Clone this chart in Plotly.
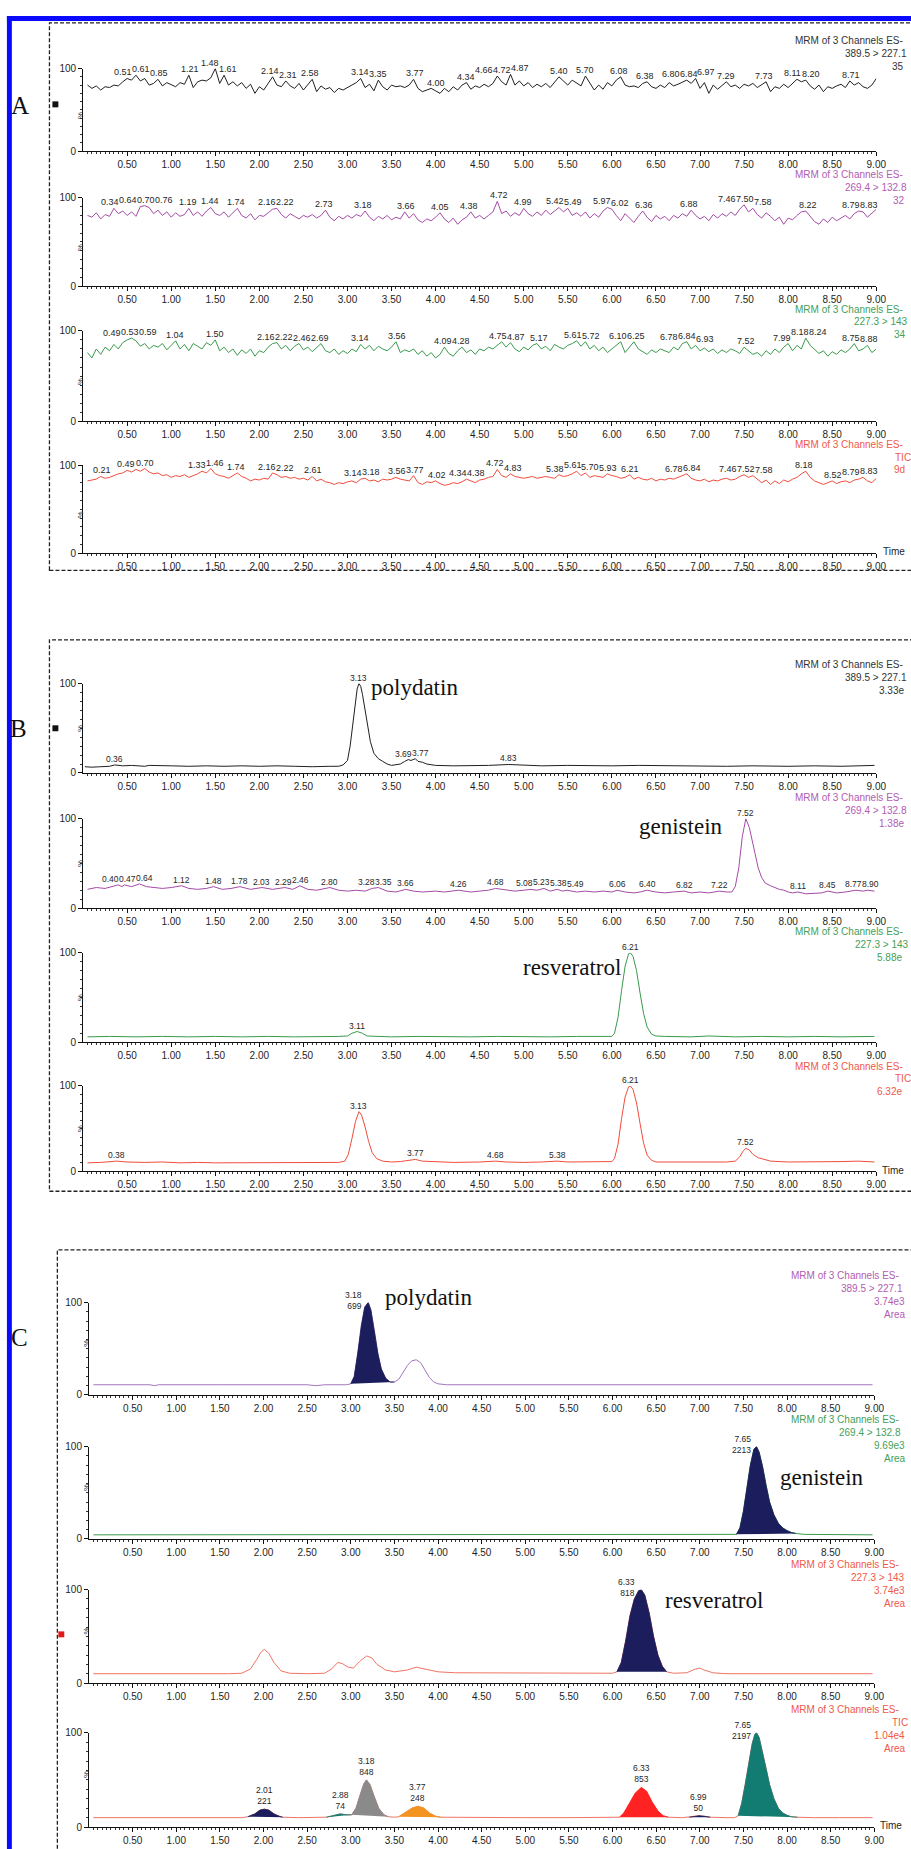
import numpy as np
import plotly.graph_objects as go

W, H = 911, 1849

# ------------------------------------------------------------------ data
# Panel A: blank samples, sampled every 0.05 min
A_TIME = [round(0.05 * i, 2) for i in range(1, 181)]

A1_Y = [80, 76, 79, 74, 78, 77, 80, 79, 84, 88,
        86, 92, 85, 88, 80, 82, 87, 79, 83, 80,
        78, 83, 81, 92, 77, 84, 86, 85, 89, 100,
        82, 92, 80, 84, 79, 83, 76, 81, 70, 78,
        74, 82, 90, 80, 78, 85, 79, 76, 82, 74,
        80, 87, 72, 79, 75, 77, 71, 76, 74, 77,
        79, 83, 88, 77, 81, 73, 86, 78, 74, 80,
        78, 79, 77, 80, 87, 76, 72, 74, 76, 73,
        70, 76, 72, 78, 74, 80, 83, 75, 79, 77,
        81, 78, 82, 91, 84, 80, 93, 80, 85, 79,
        83, 77, 81, 78, 82, 77, 84, 90, 85, 80,
        86, 83, 79, 91, 82, 74, 80, 75, 83, 79,
        86, 90, 80, 78, 79, 77, 82, 84, 78, 76,
        80, 77, 83, 79, 81, 84, 86, 82, 88, 76,
        83, 70, 80, 75, 79, 84, 78, 80, 76, 81,
        79, 82, 77, 80, 84, 72, 78, 76, 81, 77,
        82, 87, 84, 86, 79, 75, 80, 72, 78, 76,
        79, 81, 77, 85, 80, 83, 78, 76, 80, 88]

A2_Y = [80, 78, 83, 76, 81, 79, 88, 82, 85, 80,
        84, 79, 90, 91, 89, 82, 86, 80, 84, 78,
        83, 79, 81, 88, 80, 84, 79, 85, 89, 82,
        80, 84, 78, 83, 88, 80, 77, 82, 75, 80,
        79, 83, 87, 88, 81, 77, 82, 79, 76, 80,
        78, 81, 77, 80, 86, 78, 74, 79, 76, 80,
        77, 81, 79, 85, 78, 74, 79, 76, 80, 75,
        78, 76, 84, 77, 82, 75, 72, 76, 74, 78,
        83, 76, 72, 77, 70, 75, 78, 84, 77, 80,
        76, 80, 84, 96, 82, 85, 79, 83, 80, 88,
        82, 79, 84, 80, 86, 81, 85, 89, 84, 88,
        80, 83, 79, 84, 77, 82, 78, 85, 89, 87,
        80, 74, 82, 77, 72, 79, 85, 78, 73, 80,
        76, 79, 74, 80, 77, 82, 79, 86, 80, 76,
        79, 74, 81, 77, 82, 79, 84, 80, 87, 92,
        84, 88, 81, 77, 83, 79, 74, 78, 70, 77,
        75, 80, 84, 85, 79, 73, 70, 76, 72, 78,
        74, 77, 80, 76, 82, 85, 84, 78, 83, 87]

A3_Y = [76, 70, 80, 74, 82, 78, 85, 80, 87, 90,
        92, 89, 83, 86, 80, 84, 82, 86, 79, 84,
        89, 80, 85, 78, 86, 83, 80, 87, 84, 90,
        78, 82, 76, 80, 73, 79, 75, 80, 72, 78,
        76, 82, 86, 87, 80, 84, 78, 83, 86, 79,
        82, 77, 81, 86, 78, 76, 80, 74, 78, 75,
        80, 77, 85, 80, 84, 78, 83, 80, 78, 82,
        88, 76, 79, 77, 80, 74, 78, 72, 76, 70,
        74, 82, 75, 72, 78, 82, 76, 79, 74, 80,
        78, 82, 80, 84, 88, 82, 87, 80, 77, 82,
        79, 84, 86, 80, 83, 78, 85, 82, 80, 84,
        86, 89, 83, 88, 80, 84, 78, 82, 76, 80,
        84, 88, 76, 82, 88, 80, 77, 74, 79, 76,
        80, 78, 76, 82, 79, 86, 88, 80, 84, 78,
        81, 77, 80, 75, 79, 76, 80, 78, 75, 82,
        78, 74, 76, 72, 78, 74, 80, 76, 82, 86,
        78, 84, 80, 92, 84, 79, 75, 78, 72, 77,
        74, 79, 76, 80, 86, 78, 80, 84, 76, 80]

A4_Y = [82, 83, 84, 87, 85, 86, 88, 90, 91, 94,
        92, 95, 93, 96, 92, 90, 91, 88, 89, 86,
        88, 87, 89, 86, 88, 90, 93, 91, 96, 90,
        88, 87, 85, 88, 91, 87, 85, 82, 84, 83,
        85, 84, 91, 89, 86, 87, 85, 86, 84, 85,
        83, 87, 82, 84, 81, 80, 78, 80, 79, 81,
        82, 80, 84, 85, 82, 83, 81, 84, 83, 84,
        86, 84, 83, 82, 88, 80, 78, 81, 80, 82,
        79, 77, 78, 80, 79, 81, 84, 82, 80, 83,
        84, 86, 87, 95, 88, 86, 90, 87, 86, 85,
        86, 87, 85, 86, 87, 86, 85, 89, 87, 88,
        90, 93, 88, 91, 86, 88, 87, 86, 90, 88,
        87, 85, 86, 89, 84, 86, 84, 83, 85, 82,
        84, 83, 85, 84, 86, 88, 90, 85, 83, 82,
        84, 81, 83, 82, 84, 85, 83, 84, 87, 89,
        86, 88, 84, 80, 83, 78, 82, 79, 83, 81,
        84, 86, 90, 93, 86, 82, 80, 78, 80, 82,
        79, 81, 82, 80, 83, 84, 86, 82, 80, 85]

A1_PEAKS = ["0.51", "0.61", "0.85", "1.21", "1.48", "1.61", "2.14", "2.31", "2.58", "3.14",
            "3.35", "3.77", "4.00", "4.34", "4.66", "4.72", "4.87", "5.40", "5.70", "6.08",
            "6.38", "6.80", "6.84", "6.97", "7.29", "7.73", "8.11", "8.20", "8.71"]
A2_PEAKS = ["0.34", "0.64", "0.70", "0.76", "1.19", "1.44", "1.74", "2.16", "2.22", "2.73",
            "3.18", "3.66", "4.05", "4.38", "4.72", "4.99", "5.42", "5.49", "5.97", "6.02",
            "6.36", "6.88", "7.46", "7.50", "7.58", "8.22", "8.79", "8.83"]
A3_PEAKS = ["0.49", "0.53", "0.59", "1.04", "1.50", "2.16", "2.22", "2.46", "2.69", "3.14",
            "3.56", "4.09", "4.28", "4.75", "4.87", "5.17", "5.61", "5.72", "6.10", "6.25",
            "6.78", "6.84", "6.93", "7.52", "7.99", "8.18", "8.24", "8.75", "8.88"]
A4_PEAKS = ["0.21", "0.49", "0.70", "1.33", "1.46", "1.74", "2.16", "2.22", "2.61", "3.14",
            "3.18", "3.56", "3.77", "4.02", "4.34", "4.38", "4.72", "4.83", "5.38", "5.61",
            "5.70", "5.93", "6.21", "6.78", "6.84", "7.46", "7.52", "7.58", "8.18", "8.52",
            "8.79", "8.83"]

# Panel B: standards (time, %)
B1_PTS = [(0.02, 7), (0.1, 6.5), (0.2, 7), (0.3, 7.5), (0.36, 9), (0.45, 8), (0.55, 8.5),
          (0.7, 7.5), (0.75, 8.5), (0.85, 8), (1.0, 8), (1.2, 7.5), (1.4, 8), (1.6, 7.5),
          (1.8, 8), (2.0, 7.5), (2.2, 8), (2.4, 7.5), (2.6, 7), (2.8, 7.5), (2.9, 7.5),
          (2.95, 9), (3.0, 14), (3.03, 30), (3.06, 55), (3.09, 80), (3.11, 94), (3.13, 100),
          (3.15, 97), (3.17, 88), (3.2, 70), (3.23, 50), (3.26, 35), (3.3, 22), (3.35, 16),
          (3.4, 13), (3.45, 10), (3.5, 8.5), (3.55, 9), (3.6, 10), (3.65, 13), (3.69, 15),
          (3.72, 14), (3.77, 16), (3.8, 13), (3.85, 12), (3.9, 10), (3.95, 9), (4.0, 8.5),
          (4.2, 8), (4.4, 8), (4.6, 8.5), (4.83, 9.5), (5.0, 8.5), (5.2, 8), (5.5, 8.5),
          (5.8, 8), (6.0, 8), (6.3, 8.5), (6.6, 8), (7.0, 8), (7.3, 7.5), (7.6, 8),
          (8.0, 7.5), (8.3, 8), (8.6, 7.5), (8.98, 8.5)]
B2_PTS = [(0.05, 21), (0.15, 23), (0.25, 22), (0.32, 24), (0.40, 26), (0.44, 24), (0.47, 26),
          (0.55, 24), (0.64, 27), (0.72, 24), (0.8, 23), (0.9, 22), (1.0, 23), (1.12, 25),
          (1.2, 22), (1.3, 21), (1.4, 22), (1.48, 24), (1.58, 21), (1.68, 22), (1.78, 24),
          (1.9, 21), (2.03, 23), (2.15, 21), (2.29, 23), (2.38, 21), (2.46, 25), (2.55, 21),
          (2.65, 20), (2.8, 23), (2.9, 20), (3.0, 19), (3.1, 20), (3.2, 19), (3.28, 22),
          (3.35, 23), (3.45, 19), (3.55, 18), (3.66, 21), (3.75, 19), (3.85, 18), (4.0, 19),
          (4.1, 18), (4.26, 20), (4.4, 18), (4.5, 19), (4.6, 20), (4.68, 22), (4.8, 20),
          (4.9, 19), (5.0, 20), (5.08, 21), (5.15, 20), (5.23, 22), (5.3, 19), (5.38, 21),
          (5.44, 19), (5.49, 20), (5.6, 18), (5.7, 19), (5.8, 18), (5.9, 19), (6.0, 18),
          (6.06, 20), (6.15, 18), (6.25, 17), (6.32, 18), (6.40, 20), (6.5, 18), (6.6, 17),
          (6.7, 18), (6.82, 19), (6.9, 17), (7.0, 18), (7.1, 17), (7.22, 19), (7.3, 18),
          (7.36, 18), (7.4, 24), (7.44, 45), (7.48, 80), (7.52, 100), (7.56, 90), (7.6, 72),
          (7.63, 58), (7.66, 45), (7.7, 34), (7.74, 28), (7.8, 25), (7.85, 23), (7.9, 21),
          (7.95, 20), (8.0, 18), (8.05, 17), (8.11, 18), (8.2, 16), (8.3, 17), (8.38, 17),
          (8.45, 19), (8.55, 17), (8.65, 18), (8.77, 20), (8.85, 19), (8.9, 20), (8.98, 19)]
B3_PTS = [(0.05, 6), (0.3, 6.5), (0.6, 6), (0.9, 6.5), (1.2, 6), (1.5, 6.5), (1.8, 6),
          (2.1, 6.5), (2.4, 6), (2.7, 6), (2.9, 6.5), (3.0, 7), (3.05, 10), (3.11, 12),
          (3.17, 10), (3.22, 7), (3.3, 6.5), (3.5, 6), (3.8, 6.5), (4.1, 6), (4.4, 6),
          (4.7, 6.5), (5.0, 6), (5.3, 6), (5.6, 6.5), (5.9, 6), (6.0, 6.5), (6.03, 10),
          (6.07, 28), (6.11, 58), (6.15, 85), (6.19, 99), (6.21, 100), (6.24, 96), (6.28, 80),
          (6.32, 55), (6.36, 32), (6.4, 17), (6.45, 9), (6.5, 7), (6.6, 6.5), (6.9, 6),
          (7.1, 7), (7.4, 6), (7.7, 6.5), (8.0, 6), (8.3, 6.5), (8.6, 6), (8.98, 6.5)]
B4_PTS = [(0.05, 10), (0.2, 10.5), (0.38, 12), (0.5, 11), (0.7, 10.5), (0.9, 11), (1.1, 10),
          (1.3, 10.5), (1.5, 10), (1.7, 10), (2.0, 10), (2.3, 10), (2.6, 10), (2.9, 10.5),
          (2.97, 12), (3.01, 20), (3.05, 38), (3.09, 58), (3.13, 70), (3.16, 66), (3.2, 52),
          (3.24, 35), (3.28, 22), (3.33, 15), (3.4, 12), (3.5, 11), (3.6, 11.5), (3.7, 13),
          (3.77, 14), (3.85, 12), (4.0, 11), (4.2, 10.5), (4.5, 11), (4.68, 12), (4.8, 11),
          (5.0, 10.5), (5.2, 11), (5.38, 12), (5.5, 11), (5.7, 11), (5.9, 11), (6.0, 11.5),
          (6.03, 15), (6.07, 32), (6.11, 62), (6.15, 87), (6.19, 99), (6.21, 100), (6.24, 96),
          (6.28, 80), (6.32, 56), (6.36, 33), (6.4, 19), (6.45, 13), (6.5, 11), (6.7, 11),
          (6.9, 11.5), (7.1, 11), (7.3, 11), (7.4, 12), (7.45, 17), (7.49, 24), (7.52, 27),
          (7.56, 25), (7.6, 20), (7.66, 16), (7.72, 14), (7.8, 12), (8.0, 11), (8.3, 11),
          (8.6, 11.5), (8.8, 12), (8.98, 11)]

B1_PEAKS = ["0.36", "3.13", "3.69", "3.77", "4.83"]
B2_PEAKS = ["0.40", "0.47", "0.64", "1.12", "1.48", "1.78", "2.03", "2.29", "2.46", "2.80",
            "3.28", "3.35", "3.66", "4.26", "4.68", "5.08", "5.23", "5.38", "5.49", "6.06",
            "6.40", "6.82", "7.22", "7.52", "8.11", "8.45", "8.77", "8.90"]
B3_PEAKS = ["3.11", "6.21"]
B4_PEAKS = ["0.38", "3.13", "3.77", "4.68", "5.38", "6.21", "7.52"]

# Panel C: sample (time, %), integrated peaks (rt, area, start, end)
C1_PTS = [(0.05, 11), (0.6, 11), (0.7, 11), (0.75, 10), (0.8, 11), (1.5, 11), (2.0, 11),
          (2.3, 11), (2.5, 11), (2.6, 10), (2.7, 11), (2.95, 11), (3.0, 12), (3.04, 20),
          (3.08, 45), (3.12, 75), (3.16, 95), (3.2, 100), (3.23, 92), (3.27, 70), (3.31, 45),
          (3.35, 28), (3.4, 18), (3.45, 14), (3.5, 14), (3.55, 17), (3.6, 24), (3.65, 32),
          (3.7, 37), (3.75, 38), (3.8, 35), (3.85, 27), (3.9, 19), (3.95, 14), (4.0, 12),
          (4.1, 11), (4.5, 11), (5.0, 11), (6.0, 11), (7.0, 11), (8.0, 11), (8.98, 11)]
C2_PTS = [(0.05, 4.5), (1, 4.5), (2, 4.5), (3, 4.5), (4, 4.5), (5, 4.5), (6, 4.5), (7, 4.5),
          (7.35, 4.5), (7.42, 5), (7.46, 12), (7.5, 30), (7.54, 55), (7.58, 80), (7.62, 97),
          (7.65, 100), (7.68, 94), (7.72, 78), (7.76, 58), (7.8, 40), (7.85, 26), (7.9, 17),
          (7.95, 12), (8.0, 9), (8.05, 7), (8.1, 6), (8.2, 5), (8.5, 4.5), (8.98, 4.5)]
C3_PTS = [(0.05, 10), (0.5, 10), (1.0, 10), (1.3, 9.5), (1.6, 10), (1.75, 10.5), (1.85, 15),
          (1.92, 25), (1.97, 33), (2.01, 36), (2.06, 32), (2.12, 22), (2.2, 13), (2.3, 10.5),
          (2.5, 10), (2.7, 10.5), (2.78, 15), (2.85, 22), (2.9, 21), (2.97, 17), (3.03, 16),
          (3.1, 23), (3.18, 29), (3.24, 27), (3.3, 20), (3.4, 14), (3.5, 12), (3.65, 14),
          (3.75, 17), (3.85, 15), (4.0, 12), (4.2, 11), (4.5, 11), (5.0, 10.5), (5.5, 10.5),
          (6.0, 10.5), (6.05, 12), (6.1, 22), (6.15, 45), (6.2, 72), (6.25, 90), (6.3, 99),
          (6.33, 100), (6.37, 94), (6.42, 75), (6.47, 50), (6.52, 30), (6.57, 18), (6.62, 12),
          (6.7, 10.5), (6.85, 11), (6.95, 15), (7.0, 16), (7.05, 14), (7.15, 11), (7.3, 10),
          (7.6, 10), (8.0, 10), (8.5, 10), (8.98, 10)]
C4_PTS = [(0.05, 10), (0.5, 10), (1.0, 10), (1.5, 10), (1.75, 10), (1.82, 11), (1.9, 14),
          (1.96, 18), (2.01, 19), (2.06, 18), (2.12, 14), (2.18, 11.5), (2.22, 10.5), (2.4, 10),
          (2.6, 10), (2.72, 10.5), (2.8, 12), (2.88, 14), (2.95, 13), (3.01, 13), (3.06, 20),
          (3.11, 35), (3.15, 46), (3.18, 50), (3.22, 45), (3.27, 32), (3.32, 20), (3.38, 13),
          (3.43, 11), (3.5, 10.5), (3.55, 11), (3.62, 15), (3.7, 20), (3.77, 22), (3.84, 20),
          (3.9, 15), (3.97, 11.5), (4.03, 10.5), (4.5, 10), (5.0, 10), (5.5, 10), (6.0, 10),
          (6.08, 10.5), (6.13, 15), (6.2, 26), (6.26, 36), (6.33, 42), (6.39, 38), (6.45, 27),
          (6.52, 17), (6.58, 12), (6.64, 10.5), (6.8, 10), (6.88, 10.5), (6.95, 11.5),
          (6.99, 12), (7.05, 11.5), (7.12, 10.5), (7.3, 10), (7.4, 10), (7.44, 12), (7.48, 25),
          (7.52, 45), (7.56, 68), (7.6, 88), (7.63, 98), (7.65, 100), (7.68, 95), (7.72, 80),
          (7.76, 62), (7.8, 45), (7.85, 30), (7.9, 20), (7.95, 15), (8.0, 12.5), (8.05, 11),
          (8.12, 10.5), (8.3, 10), (8.6, 10), (8.98, 10)]

C1_AREAS = [("3.18", "699", 3.00, 3.50)]
C2_AREAS = [("7.65", "2213", 7.42, 8.10)]
C3_AREAS = [("6.33", "818", 6.05, 6.62)]
C4_AREAS = [("2.01", "221", 1.82, 2.22), ("2.88", "74", 2.72, 3.01), ("3.18", "848", 3.01, 3.43),
            ("3.77", "248", 3.55, 4.03), ("6.33", "853", 6.08, 6.64), ("6.99", "50", 6.88, 7.12),
            ("7.65", "2197", 7.44, 8.12)]

HEAD_A = [["MRM of 3 Channels ES-", "389.5 > 227.1", "35"],
          ["MRM of 3 Channels ES-", "269.4 > 132.8", "32"],
          ["MRM of 3 Channels ES-", "227.3 > 143", "34"],
          ["MRM of 3 Channels ES-", "TIC", "9d"]]
HEAD_B = [["MRM of 3 Channels ES-", "389.5 > 227.1", "3.33e"],
          ["MRM of 3 Channels ES-", "269.4 > 132.8", "1.38e"],
          ["MRM of 3 Channels ES-", "227.3 > 143", "5.88e"],
          ["MRM of 3 Channels ES-", "TIC", "6.32e"]]
HEAD_C = [["MRM of 3 Channels ES-", "389.5 > 227.1", "3.74e3", "Area"],
          ["MRM of 3 Channels ES-", "269.4 > 132.8", "9.69e3", "Area"],
          ["MRM of 3 Channels ES-", "227.3 > 143", "3.74e3", "Area"],
          ["MRM of 3 Channels ES-", "TIC", "1.04e4", "Area"]]

COMPOUNDS = ["polydatin", "genistein", "resveratrol"]
PANELS = ["A", "B", "C"]
X_TICKS = [0.5 * i for i in range(1, 19)]

# ------------------------------------------------------------------ style
SANS = "Liberation Sans, Arial, sans-serif"
SERIF = "Liberation Serif, Times New Roman, serif"
BLACK, PURPLE, GREEN, RED = "#202020", "#a44aa6", "#3a9a4c", "#ef4d3c"
C_PURPLE, C_RED = "#a276ba", "#f07464"
T_BLACK, T_PURPLE, T_GREEN, T_RED = "#333333", "#b25cb2", "#44a058", "#f05848"
NAVY, TEAL, GRAY, ORANGE, FRED = "#1b1d5c", "#127c72", "#8a8a8a", "#f39420", "#ff2222"
C4_FILLS = [NAVY, TEAL, GRAY, ORANGE, FRED, NAVY, TEAL]


def px(x):
    return x / W


def py(y):
    return 1 - y / H


def split(pts):
    return [p[0] for p in pts], [p[1] for p in pts]


def pack_labels(items, size):
    """Horizontal shifts (px) so that neighbouring labels at a similar height do not collide."""
    n = len(items)
    wid = [size * (0.556 * sum(c.isdigit() for c in it[2]) + 0.278 * it[2].count("."))
           for it in items]
    sh = [0.0] * n
    for _ in range(300):
        moved = False
        for i in range(n - 1):
            j = i + 1
            if abs(items[i][1] - items[j][1]) < size + 1:
                ov = (items[i][0] + sh[i] + wid[i] / 2 + 0.5) - (items[j][0] + sh[j] - wid[j] / 2)
                if ov > 0.05:
                    sh[i] -= ov / 2
                    sh[j] += ov / 2
                    moved = True
        if not moved:
            break
    return sh


fig = go.Figure()
layout = {}
annotations = []
shapes = []

# geometry in page pixels: (x_left, x_right, y_zero, y_hundred, header_y)
A_GEOM = [(84, 886, 146, 63, 35), (84, 886, 282, 193, 170), (84, 886, 418, 327, 305), (84, 886, 551, 462, 441)]
B_GEOM = [(84, 886, 772, 682, 663), (84, 886, 908, 818, 797), (84, 886, 1043, 953, 932), (84, 886, 1173, 1087, 1067)]
C_GEOM = [(90, 884, 1398, 1305, 1278), (90, 884, 1543, 1450, 1423), (90, 884, 1688, 1594, 1569), (90, 884, 1833, 1738, 1715)]
A_HX = [[802, 852, 900], [802, 852, 901], [802, 861, 902], [802, 903, 902]]
B_HX = [[802, 852, 887], [802, 852, 887], [802, 862, 885], [802, 903, 885]]
C_HX = [[798, 848, 882, 892], [798, 846, 882, 892], [798, 858, 882, 892], [798, 900, 882, 892]]

subplots = []
for i, (ys, pk, col, tcol) in enumerate(zip([A1_Y, A2_Y, A3_Y, A4_Y],
                                             [A1_PEAKS, A2_PEAKS, A3_PEAKS, A4_PEAKS],
                                             [BLACK, PURPLE, GREEN, RED],
                                             [T_BLACK, T_PURPLE, T_GREEN, T_RED])):
    subplots.append(dict(t=A_TIME[:len(ys)], y=ys, peaks=pk, areas=[], color=col, tcol=tcol,
                         geom=A_GEOM[i], head=HEAD_A[i], hx=A_HX[i], psize=9))
for i, (pts, pk, col, tcol) in enumerate(zip([B1_PTS, B2_PTS, B3_PTS, B4_PTS],
                                              [B1_PEAKS, B2_PEAKS, B3_PEAKS, B4_PEAKS],
                                              [BLACK, PURPLE, GREEN, RED],
                                              [T_BLACK, T_PURPLE, T_GREEN, T_RED])):
    t, y = split(pts)
    subplots.append(dict(t=t, y=y, peaks=pk, areas=[], color=col, tcol=tcol,
                         geom=B_GEOM[i], head=HEAD_B[i], hx=B_HX[i], psize=8.5))
for i, (pts, ar, col, tcol) in enumerate(zip([C1_PTS, C2_PTS, C3_PTS, C4_PTS],
                                              [C1_AREAS, C2_AREAS, C3_AREAS, C4_AREAS],
                                              [C_PURPLE, GREEN, C_RED, C_RED],
                                              [T_PURPLE, T_GREEN, T_RED, T_RED])):
    t, y = split(pts)
    fills = C4_FILLS if i == 3 else [NAVY]
    subplots.append(dict(t=t, y=y, peaks=[], areas=list(zip(ar, fills)), color=col, tcol=tcol,
                         geom=C_GEOM[i], head=HEAD_C[i], hx=C_HX[i], psize=8.5, cidx=i))

tickfont = dict(family=SANS, size=10, color="#1e1e1e")

for k, sp in enumerate(subplots, start=1):
    xa = "x" if k == 1 else f"x{k}"
    ya = "y" if k == 1 else f"y{k}"
    x0, x1, y0, y100, hy = sp["geom"]
    ppm = (x1 - x0) / 9.0
    ppp = (y0 - y100) / 100.0
    t = np.array(sp["t"], dtype=float)
    y = np.array(sp["y"], dtype=float)

    fig.add_trace(go.Scatter(x=t, y=y, mode="lines", xaxis=xa, yaxis=ya,
                             line=dict(color=sp["color"], width=1), hoverinfo="skip"))

    # filled integrated peaks
    for (rt, area, s, e), fc in sp["areas"]:
        m = (t >= s - 1e-9) & (t <= e + 1e-9)
        fig.add_trace(go.Scatter(x=t[m], y=y[m], mode="lines", fill="toself", fillcolor=fc,
                                 line=dict(color=fc, width=0.8), xaxis=xa, yaxis=ya,
                                 hoverinfo="skip"))
        apex_i = np.argmax(np.where(m, y, -1))
        at, ay = t[apex_i], y[apex_i]
        left_style = (sp.get("cidx") in (0, 1, 2)) or (sp.get("cidx") == 3 and rt == "7.65")
        if left_style:
            annotations.append(dict(x=at, y=ay, xref=xa, yref=ya, text=f"{rt}<br>{area}",
                                    showarrow=False, xanchor="right", yanchor="middle",
                                    xshift=-4, yshift=2, align="right",
                                    font=dict(family=SANS, size=sp["psize"], color="#262626")))
        else:
            annotations.append(dict(x=at, y=ay, xref=xa, yref=ya, text=f"{rt}<br>{area}",
                                    showarrow=False, xanchor="center", yanchor="bottom",
                                    yshift=1, align="center",
                                    font=dict(family=SANS, size=sp["psize"], color="#262626")))

    # retention-time labels
    items = []
    for lab in sp["peaks"]:
        lt = float(lab)
        grid = np.linspace(lt - 0.04, lt + 0.04, 9)
        top = float(np.max(np.interp(grid, t, y)))
        items.append([x0 + lt * ppm, top * ppp, lab, lt, top])
    shifts = pack_labels(items, sp["psize"])
    for it, dx in zip(items, shifts):
        annotations.append(dict(x=it[3], y=it[4], xref=xa, yref=ya, text=it[2], showarrow=False,
                                xanchor="center", yanchor="bottom", xshift=dx, yshift=-1,
                                font=dict(family=SANS, size=sp["psize"], color="#262626")))

    # axes
    layout["xaxis" if k == 1 else f"xaxis{k}"] = dict(
        domain=[px(x0), px(x1)], range=[0, 9], anchor=ya, showline=True, linecolor="#111",
        linewidth=1, ticks="outside", ticklen=4, tickwidth=1, tickcolor="#111",
        tickvals=X_TICKS, ticktext=[f"{v:.2f}" for v in X_TICKS], tickfont=tickfont,
        showgrid=False, zeroline=False, fixedrange=True,
        minor=dict(tickvals=[round(0.05 * j, 2) for j in range(1, 181)], ticks="outside",
                   ticklen=2, tickwidth=1, tickcolor="#333", showgrid=False))
    layout["yaxis" if k == 1 else f"yaxis{k}"] = dict(
        domain=[py(y0), py(y100)], range=[0, 100], anchor=xa, showline=True, linecolor="#111",
        linewidth=1, ticks="outside", ticklen=4, tickwidth=1, tickcolor="#111",
        tickvals=[0, 100], ticktext=["0", "100"], tickfont=tickfont,
        showgrid=False, zeroline=False, fixedrange=True,
        minor=dict(tickvals=[10 * j for j in range(1, 10)], ticks="outside", ticklen=2,
                   tickwidth=1, tickcolor="#333", showgrid=False))

    # "%" on the y axis
    annotations.append(dict(x=px(x0 - 9), y=py((y0 + y100) / 2), xref="paper", yref="paper",
                            text="%", showarrow=False, textangle=-90,
                            font=dict(family=SANS, size=8, color="#333")))

    # header text (top right, cut by the page edge like the original)
    for j, (line, hxx) in enumerate(zip(sp["head"], sp["hx"])):
        annotations.append(dict(x=px(hxx), y=py(hy + 13 * j), xref="paper", yref="paper",
                                text=line, showarrow=False, xanchor="left", yanchor="middle",
                                font=dict(family=SANS, size=10, color=sp["tcol"])))

# "Time" axis titles
for (x, y) in [(891, 549), (890, 1172), (888, 1831)]:
    annotations.append(dict(x=px(x), y=py(y), xref="paper", yref="paper", text="Time",
                            showarrow=False, xanchor="left", yanchor="middle",
                            font=dict(family=SANS, size=10, color="#262626")))

# compound names
for name, (x, y) in zip(COMPOUNDS * 2, [(373, 686), (644, 826), (527, 968),
                                        (387, 1300), (787, 1481), (670, 1605)]):
    annotations.append(dict(x=px(x), y=py(y), xref="paper", yref="paper", text=name,
                            showarrow=False, xanchor="left", yanchor="middle",
                            font=dict(family=SERIF, size=23, color="#111")))

# panel letters
for name, (x, y) in zip(PANELS, [(20, 100), (19, 727), (20, 1340)]):
    annotations.append(dict(x=px(x), y=py(y), xref="paper", yref="paper", text=name,
                            showarrow=False, xanchor="center", yanchor="middle",
                            font=dict(family=SERIF, size=25, color="#111")))

# dashed panel frames
for (x0, y0, y1) in [(50, 17, 568), (50, 638, 1193), (58, 1252, 1900)]:
    shapes.append(dict(type="rect", xref="paper", yref="paper", x0=px(x0), x1=px(1000),
                       y0=py(y1), y1=py(y0), line=dict(color="#222", width=1.3, dash="4px,2px"),
                       fillcolor="rgba(0,0,0,0)", layer="below"))

# small marker squares
for (x, y, c) in [(56, 99, "#111"), (56, 727, "#111"), (62, 1639, "#e01818")]:
    shapes.append(dict(type="rect", xref="paper", yref="paper", x0=px(x - 3), x1=px(x + 3),
                       y0=py(y + 3), y1=py(y - 3), line=dict(width=0), fillcolor=c))

# blue frame of the figure
shapes.append(dict(type="rect", xref="paper", yref="paper", x0=px(7), x1=px(1000),
                   y0=py(15), y1=py(10), line=dict(width=0), fillcolor="#0a0aff"))
shapes.append(dict(type="rect", xref="paper", yref="paper", x0=px(7), x1=px(12),
                   y0=py(1900), y1=py(10), line=dict(width=0), fillcolor="#0a0aff"))

fig.update_layout(**layout)
fig.update_layout(width=W, height=H, margin=dict(l=0, r=0, t=0, b=0), showlegend=False,
                  paper_bgcolor="white", plot_bgcolor="white",
                  annotations=annotations, shapes=shapes)

fig.write_html("out.html")
